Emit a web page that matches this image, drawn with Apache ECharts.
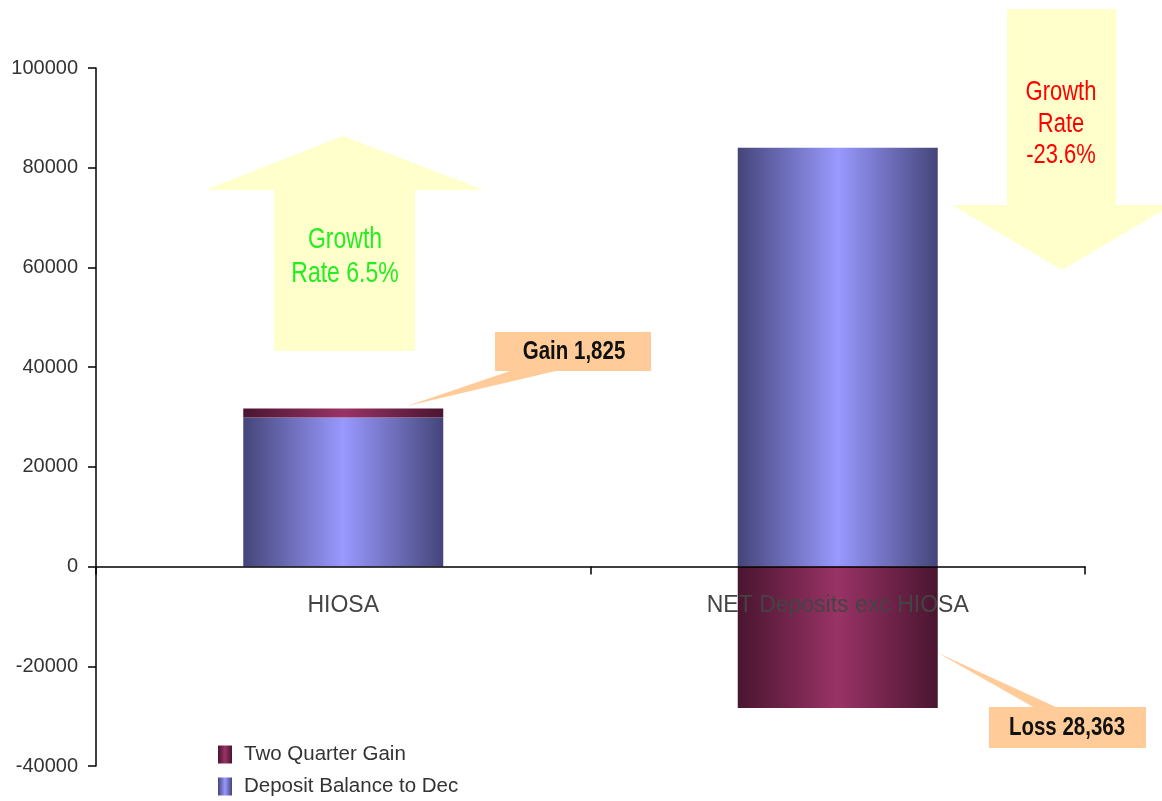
<!DOCTYPE html>
<html>
<head>
<meta charset="utf-8">
<script src="https://cdn.jsdelivr.net/npm/echarts@6/dist/echarts.min.js"></script>
<style>
    html, body { margin: 0; padding: 0; background: #fff; }
    .chart1 { width: 1162px; height: 801px; }
</style>
</head>
<body>
<div class="chart1"></div>
<script>
// 数据
const categories = ['HIOSA', 'NET Deposits exc HIOSA'];
const depositBalance = [29900, 84000];
const twoQuarterGain = [1825, -28363];
const yMin = -40000, yMax = 100000, yStep = 20000;

const font = "'Liberation Sans', Arial, sans-serif";
const gridTop = 68, gridBottom = 35;
const plotHeight = 801 - gridTop - gridBottom;
// x轴放在0刻度处
const zeroOffset = plotHeight * (0 - yMin) / (yMax - yMin);

function barGradient(edge, mid) {
    return new echarts.graphic.LinearGradient(0, 0, 1, 0, [
        { offset: 0, color: edge },
        { offset: 0.5, color: mid },
        { offset: 1, color: edge }
    ]);
}

// 文字纵向拉伸，跟原图一样
function tallText(x, y, text, color, size, lineH, bold) {
    return {
        type: 'text',
        z: 12,
        x: x,
        y: y,
        scaleY: 1.28,
        style: {
            x: 0,
            y: 0,
            text: text,
            align: 'center',
            verticalAlign: 'middle',
            fill: color,
            font: (bold ? 'bold ' : '') + size + 'px ' + font,
            lineHeight: lineH
        }
    };
}

let chart = echarts.init(document.getElementsByClassName('chart1')[0]);
let option = {
    backgroundColor: '#ffffff',
    animation: false,
    grid: {
        left: 96,
        right: 77,
        top: gridTop,
        bottom: gridBottom,
        outerBoundsMode: 'none',
        containLabel: false
    },
    legend: {
        orient: 'vertical',
        left: 218,
        top: 744,
        padding: 0,
        icon: 'rect',
        itemWidth: 14,
        itemHeight: 18,
        itemGap: 11,
        data: ['Two Quarter Gain', 'Deposit Balance to Dec'],
        textStyle: {
            color: '#333',
            fontFamily: font,
            fontSize: 20.5,
            lineHeight: 18,
            padding: [0, 0, 0, 7]
        }
    },
    xAxis: {
        type: 'category',
        data: categories,
        z: 5,
        offset: -zeroOffset,
        axisLine: { onZero: false, lineStyle: { color: '#000', width: 1.5 } },
        axisTick: { show: true, length: 8, lineStyle: { color: '#000', width: 1.5 } },
        axisLabel: {
            color: '#444',
            fontFamily: font,
            fontSize: 23,
            margin: 28
        },
        splitLine: { show: false }
    },
    yAxis: {
        type: 'value',
        min: yMin,
        max: yMax,
        interval: yStep,
        axisLine: { show: true, lineStyle: { color: '#000', width: 1.5 } },
        axisTick: { show: true, length: 8, lineStyle: { color: '#000', width: 1.5 } },
        axisLabel: {
            color: '#333',
            fontFamily: font,
            fontSize: 20,
            margin: 18,
            formatter: function (v) { return String(v); }
        },
        splitLine: { show: false }
    },
    series: [
        {
            name: 'Deposit Balance to Dec',
            type: 'bar',
            stack: 'dep',
            barWidth: 200,
            data: depositBalance,
            itemStyle: {
                color: barGradient('#45457a', '#9999ff')
            }
        },
        {
            name: 'Two Quarter Gain',
            type: 'bar',
            stack: 'dep',
            barWidth: 200,
            data: twoQuarterGain,
            itemStyle: {
                color: barGradient('#4a1530', '#993366')
            }
        }
    ],
    // 箭头和标注
    graphic: [
        {
            type: 'polygon',
            z: 1,
            shape: { points: [[343, 136], [484, 190], [415, 190], [415, 351], [274, 351], [274, 190], [205, 190]] },
            style: { fill: '#ffffcc' }
        },
        tallText(345, 257, 'Growth\nRate 6.5%', '#22ee22', 23, 26),
        {
            type: 'polygon',
            z: 1,
            shape: { points: [[1007, 9], [1116, 9], [1116, 205], [1172, 205], [1062, 270], [952, 205], [1007, 205]] },
            style: { fill: '#ffffcc' }
        },
        tallText(1061, 124, 'Growth\nRate\n-23.6%', '#ff0000', 22, 24.5),
        {
            type: 'polygon',
            z: 10,
            shape: { points: [[513, 370], [560, 370], [407, 406]] },
            style: { fill: '#ffcc99' }
        },
        {
            type: 'rect',
            z: 10,
            shape: { x: 495, y: 332, width: 156, height: 39 },
            style: { fill: '#ffcc99' }
        },
        tallText(574, 352, 'Gain 1,825', '#111', 20.5, 22, true),
        {
            type: 'polygon',
            z: 10,
            shape: { points: [[1035, 708], [1058, 708], [938, 653]] },
            style: { fill: '#ffcc99' }
        },
        {
            type: 'rect',
            z: 10,
            shape: { x: 989, y: 707, width: 157, height: 41 },
            style: { fill: '#ffcc99' }
        },
        tallText(1067, 728, 'Loss 28,363', '#111', 20.5, 22, true)
    ]
};
chart.setOption(option);
</script>
</body>
</html>
